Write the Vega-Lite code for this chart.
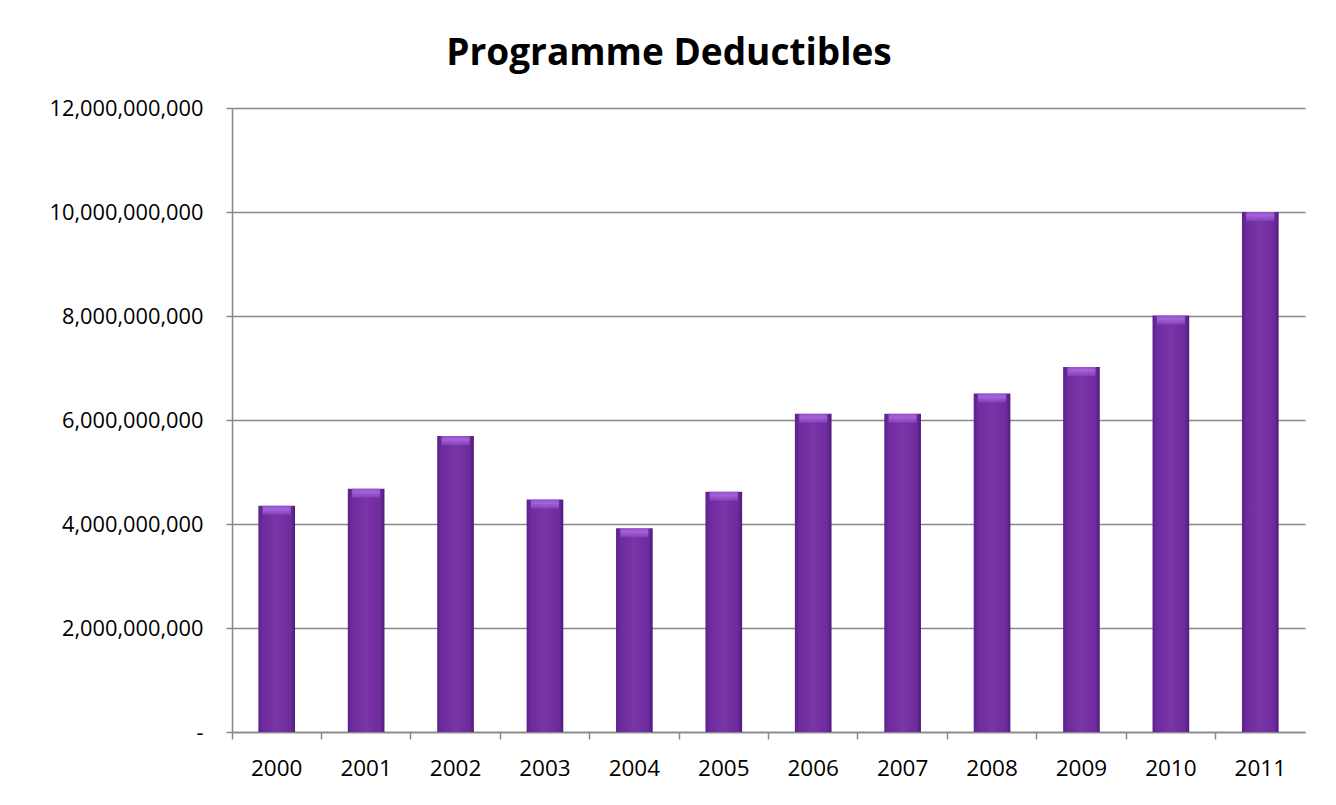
{
  "$schema": "https://vega.github.io/schema/vega-lite/v6.json",
  "width": 1073,
  "height": 624,
  "autosize": "none",
  "padding": {"left": 232, "top": 108, "right": 31, "bottom": 73},
  "background": "white",
  "title": {
    "text": "Programme Deductibles",
    "font": "Open Sans",
    "fontSize": 37,
    "fontWeight": "bold",
    "color": "#000000",
    "anchor": "middle",
    "frame": "bounds",
    "offset": 25,
    "dx": -8
  },
  "data": {
    "values": [
      {"year": "2000", "value": 4350000000},
      {"year": "2001", "value": 4680000000},
      {"year": "2002", "value": 5690000000},
      {"year": "2003", "value": 4470000000},
      {"year": "2004", "value": 3920000000},
      {"year": "2005", "value": 4620000000},
      {"year": "2006", "value": 6120000000},
      {"year": "2007", "value": 6120000000},
      {"year": "2008", "value": 6510000000},
      {"year": "2009", "value": 7020000000},
      {"year": "2010", "value": 8010000000},
      {"year": "2011", "value": 10000000000}
    ]
  },
  "encoding": {
    "x": {
      "field": "year",
      "type": "ordinal",
      "scale": {"paddingInner": 0, "paddingOuter": 0},
      "axis": {
        "title": null,
        "labelAngle": 0,
        "bandPosition": 0,
        "labelFont": "Open Sans",
        "labelFontSize": 22.5,
        "labelColor": "#000000",
        "labelPadding": 18,
        "domainColor": "#888888",
        "domainWidth": 1.5,
        "tickColor": "#888888",
        "tickWidth": 1.5,
        "tickSize": 7,
        "grid": false
      }
    },
    "y": {
      "field": "value",
      "type": "quantitative",
      "scale": {"domain": [0, 12000000000], "nice": false},
      "axis": {
        "title": null,
        "values": [0, 2000000000, 4000000000, 6000000000, 8000000000, 10000000000, 12000000000],
        "labelExpr": "datum.value == 0 ? '-' : format(datum.value, ',')",
        "labelFont": "Open Sans",
        "labelFontSize": 21.8,
        "labelColor": "#000000",
        "labelPadding": 23,
        "domainColor": "#888888",
        "domainWidth": 1.5,
        "tickColor": "#888888",
        "tickWidth": 1.5,
        "tickSize": 6,
        "grid": true,
        "gridColor": "#888888",
        "gridWidth": 1.5
      }
    }
  },
  "layer": [
    {
      "mark": {
        "type": "bar",
        "width": {"band": 0.41},
        "color": {
          "gradient": "linear",
          "x1": 0, "x2": 1, "y1": 0, "y2": 0,
          "stops": [
            {"offset": 0, "color": "#5a2188"},
            {"offset": 0.12, "color": "#6e2b9e"},
            {"offset": 0.5, "color": "#7a35a8"},
            {"offset": 0.88, "color": "#6e2b9e"},
            {"offset": 1, "color": "#4f1c78"}
          ]
        }
      }
    },
    {
      "mark": {
        "type": "tick",
        "orient": "horizontal",
        "thickness": 9,
        "yOffset": 4.5,
        "color": {
          "gradient": "linear",
          "x1": 0, "x2": 0, "y1": 0, "y2": 1,
          "stops": [
            {"offset": 0, "color": "#a060d8"},
            {"offset": 0.4, "color": "#b878f0"},
            {"offset": 1, "color": "#8a44c0"}
          ]
        },
        "size": 28
      }
    }
  ],
  "config": {
    "view": {"stroke": null}
  }
}
